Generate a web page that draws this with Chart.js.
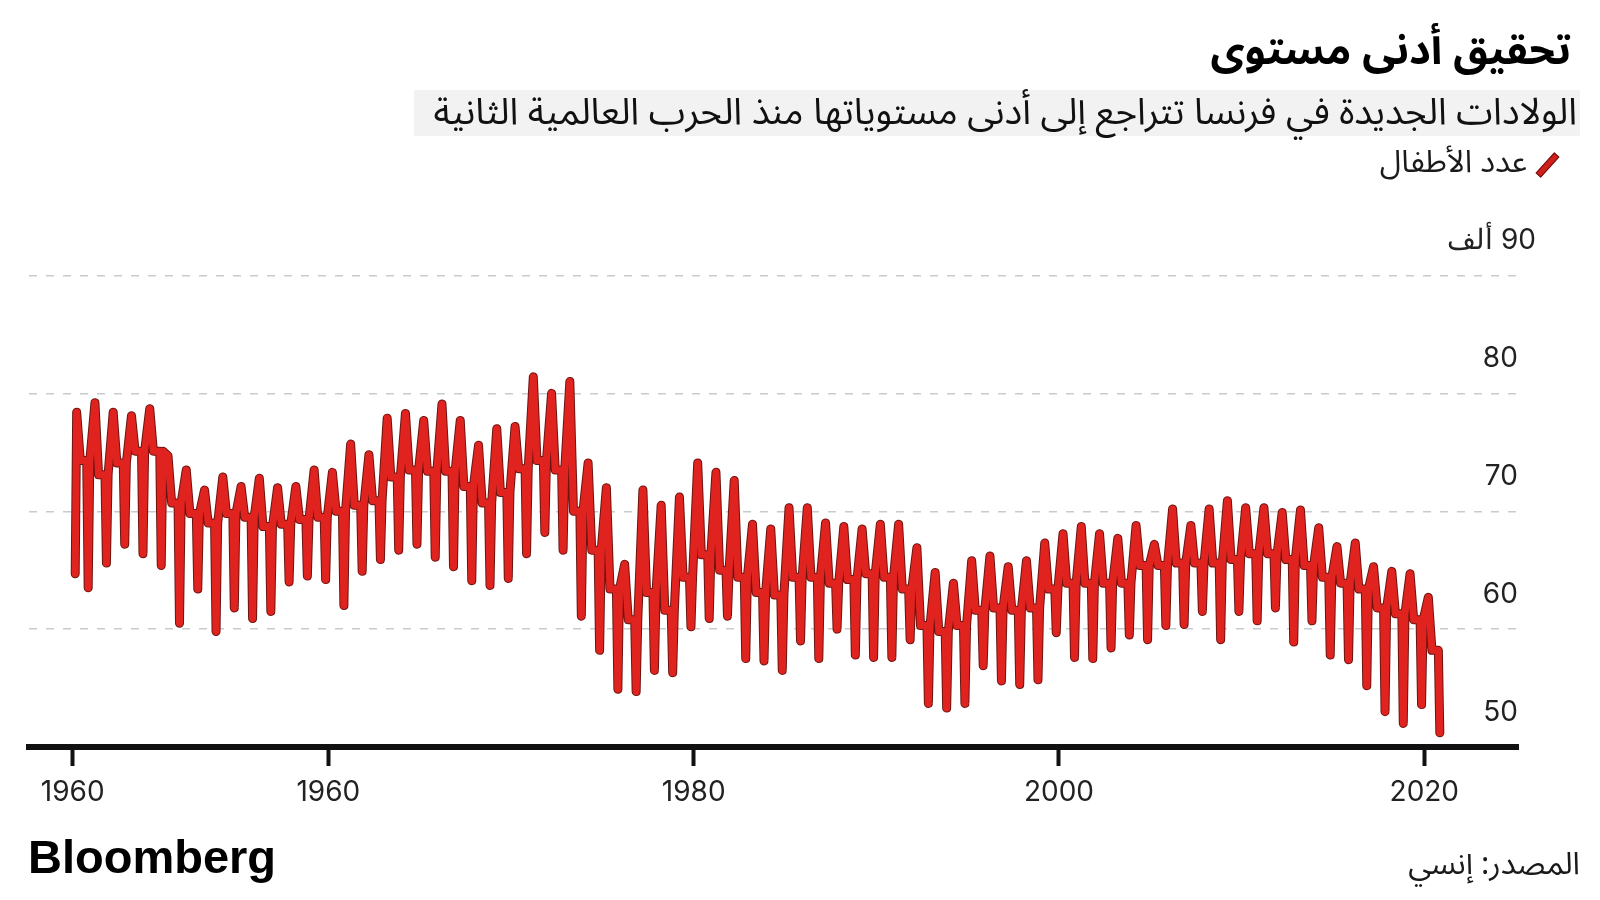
<!DOCTYPE html>
<html lang="ar">
<head>
<meta charset="UTF-8">
<title>تحقيق أدنى مستوى</title>
<script src="https://cdn.jsdelivr.net/npm/chart.js@4.4.0/dist/chart.umd.min.js"></script>
<style>
  body { margin: 0; width: 1600px; height: 900px; background: #fff; position: relative; overflow: hidden; color: #1a1a1a; }
  #chart { position: absolute; left: 0; top: 0; }
  .ar { position: absolute; direction: rtl; font-family: "Noto Sans Arabic", "DejaVu Sans", sans-serif; white-space: nowrap; }
  #title { right: 29px; top: 24px; font-size: 42px; line-height: 54px; font-weight: bold; color: #000; }
  #subtitle { left: 414px; right: 20px; top: 90px; height: 46px; line-height: 44px; font-size: 37px; background: #f2f2f2; padding-right: 3px; box-sizing: border-box; color: #111; }
  #legend { right: 73px; top: 141px; font-size: 31px; line-height: 42px; }
  #swatch { position: absolute; left: 1544px; top: 151px; width: 5px; height: 26px; background: #d11f1c; border: 1px solid #6e1410; transform: rotate(42deg); }
  #source { right: 20px; top: 843px; font-size: 31px; line-height: 42px; }
  #logo { position: absolute; left: 28px; top: 832px; font: bold 47px/50px "Liberation Sans", Arial, sans-serif; color: #000; }
</style>
</head>
<body>
  <canvas id="chart" width="1600" height="900"></canvas>
  <div class="ar" id="title">تحقيق أدنى مستوى</div>
  <div class="ar" id="subtitle">الولادات الجديدة في فرنسا تتراجع إلى أدنى مستوياتها منذ الحرب العالمية الثانية</div>
  <div id="swatch"></div>
  <div class="ar" id="legend">عدد الأطفال</div>
  <div id="logo">Bloomberg</div>
  <div class="ar" id="source">المصدر: إنسي</div>
<script>
// one yearly cycle per year, values in thousands of births
const years = Array.from({ length: 75 }, (_, i) => 1946 + i);
const firstBirths = 64.7;
const peakBirths = [
  78.4, 79.2, 78.4, 78.1, 78.7, 74.7, 73.5, 71.8, 72.9, 72.1,
  72.8, 72.0, 72.1, 73.5, 73.3, 75.7, 74.8, 77.9, 78.3, 77.7,
  79.1, 77.7, 75.6, 77.0, 77.2, 81.4, 80.0, 81.0, 74.1, 72.0,
  65.5, 71.8, 70.5, 71.2, 74.1, 73.3, 72.6, 68.9, 68.5, 70.3,
  70.3, 69.0, 68.7, 68.5, 68.9, 68.9, 66.9, 64.8, 63.9, 65.8,
  66.2, 65.3, 65.8, 67.3, 68.1, 68.7, 68.1, 67.7, 68.8, 67.2,
  70.2, 68.8, 70.2, 70.9, 70.3, 70.3, 69.9, 70.1, 68.6, 67.0,
  67.3, 65.3, 64.9, 64.7, 62.7
];
const plateauBirths = [
  74.3, 73.1, 74.1, 75.1, 75.1, 70.7, 69.8, 69.0, 69.8, 69.5,
  68.7, 68.9, 69.3, 69.5, 70.0, 70.5, 70.9, 72.9, 73.5, 73.4,
  73.4, 72.1, 70.7, 71.6, 73.6, 74.3, 73.5, 70.0, 66.7, 63.4,
  60.8, 63.1, 61.6, 64.4, 66.3, 65.0, 64.4, 63.1, 62.9, 64.4,
  64.4, 63.9, 64.2, 64.7, 64.4, 63.4, 60.3, 59.8, 60.3, 61.6,
  61.8, 61.6, 61.8, 63.4, 63.9, 63.9, 63.9, 63.9, 65.4, 65.4,
  65.6, 65.6, 65.6, 65.9, 66.4, 66.4, 65.9, 65.4, 64.4, 63.9,
  63.4, 61.8, 61.3, 60.8, 58.2
];
const troughBirths = [
  63.5, 65.6, 67.2, 66.4, 65.4, 60.5, 63.4, 59.8, 61.8, 60.9,
  61.5, 64.0, 64.5, 64.2, 62.0, 64.9, 65.9, 66.7, 67.2, 66.1,
  65.3, 64.1, 63.7, 64.3, 66.4, 68.2, 66.7, 61.1, 58.2, 54.9,
  54.7, 56.5, 56.3, 60.2, 60.9, 61.1, 57.5, 57.3, 56.5, 59.0,
  57.5, 60.0, 57.8, 57.6, 57.6, 59.1, 53.7, 53.3, 53.7, 56.9,
  55.6, 55.3, 55.7, 59.7, 57.6, 57.5, 58.4, 59.5, 59.1, 60.3,
  60.4, 61.5, 59.1, 61.5, 60.7, 61.8, 58.9, 60.7, 57.8, 57.4,
  55.2, 53.0, 52.0, 53.6, 51.2
];
const xTickYears = [1946, 1960, 1980, 2000, 2020];
const xTickLabels = ['1960', '1960', '1980', '2000', '2020'];
const yTickValues = [50, 60, 70, 80, 90];

// place the readings of each cycle along the year
const peakAt = 0.22;
const points = [{ x: years[0] + peakAt - 0.08, y: firstBirths }];
years.forEach((yr, i) => {
  const t = yr + peakAt;
  points.push({ x: t, y: peakBirths[i] });
  points.push({ x: t + 0.2, y: plateauBirths[i] });
  points.push({ x: t + 0.55, y: plateauBirths[i] });
  points.push({ x: t + 0.63, y: troughBirths[i] });
  if (i < years.length - 1) points.push({ x: t + 0.72, y: plateauBirths[i] });
});

const tickFont = { family: 'Inter', size: 28 };

new Chart(document.getElementById('chart'), {
  type: 'line',
  data: {
    datasets: [
      { data: points, borderColor: '#e1231f', borderWidth: 7 },
      { data: points, borderColor: '#6e1410', borderWidth: 9 }
    ]
  },
  options: {
    responsive: false,
    animation: false,
    layout: { padding: { left: 29, right: 82, top: 275.5, bottom: 93 } },
    elements: {
      point: { radius: 0 },
      line: { tension: 0, borderJoinStyle: 'round', borderCapStyle: 'round' }
    },
    plugins: { legend: { display: false }, tooltip: { enabled: false } },
    scales: {
      x: {
        type: 'linear',
        min: 1943.61,
        max: 2025.13,
        afterBuildTicks: s => { s.ticks = xTickYears.map(v => ({ value: v })); },
        afterFit: s => { s.height = 60; },
        grid: { drawOnChartArea: false, tickLength: 19, tickWidth: 4, tickColor: '#111' },
        border: { display: true, color: '#111', width: 6 },
        ticks: { callback: (v, i) => xTickLabels[i], font: tickFont, color: '#222', padding: 10, maxRotation: 0 }
      },
      y: {
        position: 'right',
        min: 50,
        max: 90,
        afterBuildTicks: s => { s.ticks = yTickValues.map(v => ({ value: v })); },
        afterFit: s => { s.width = 0; },
        grid: { color: '#c8cbce', lineWidth: 1.5, drawTicks: false },
        border: { display: false, dash: [8, 9] },
        ticks: {
          mirror: true,
          padding: 18,
          labelOffset: -34.5,
          font: tickFont,
          color: '#222',
          callback: v => v === 90 ? 'ألف\u200E 90' : v + '\u2007'
        }
      }
    }
  }
});
</script>
</body>
</html>
